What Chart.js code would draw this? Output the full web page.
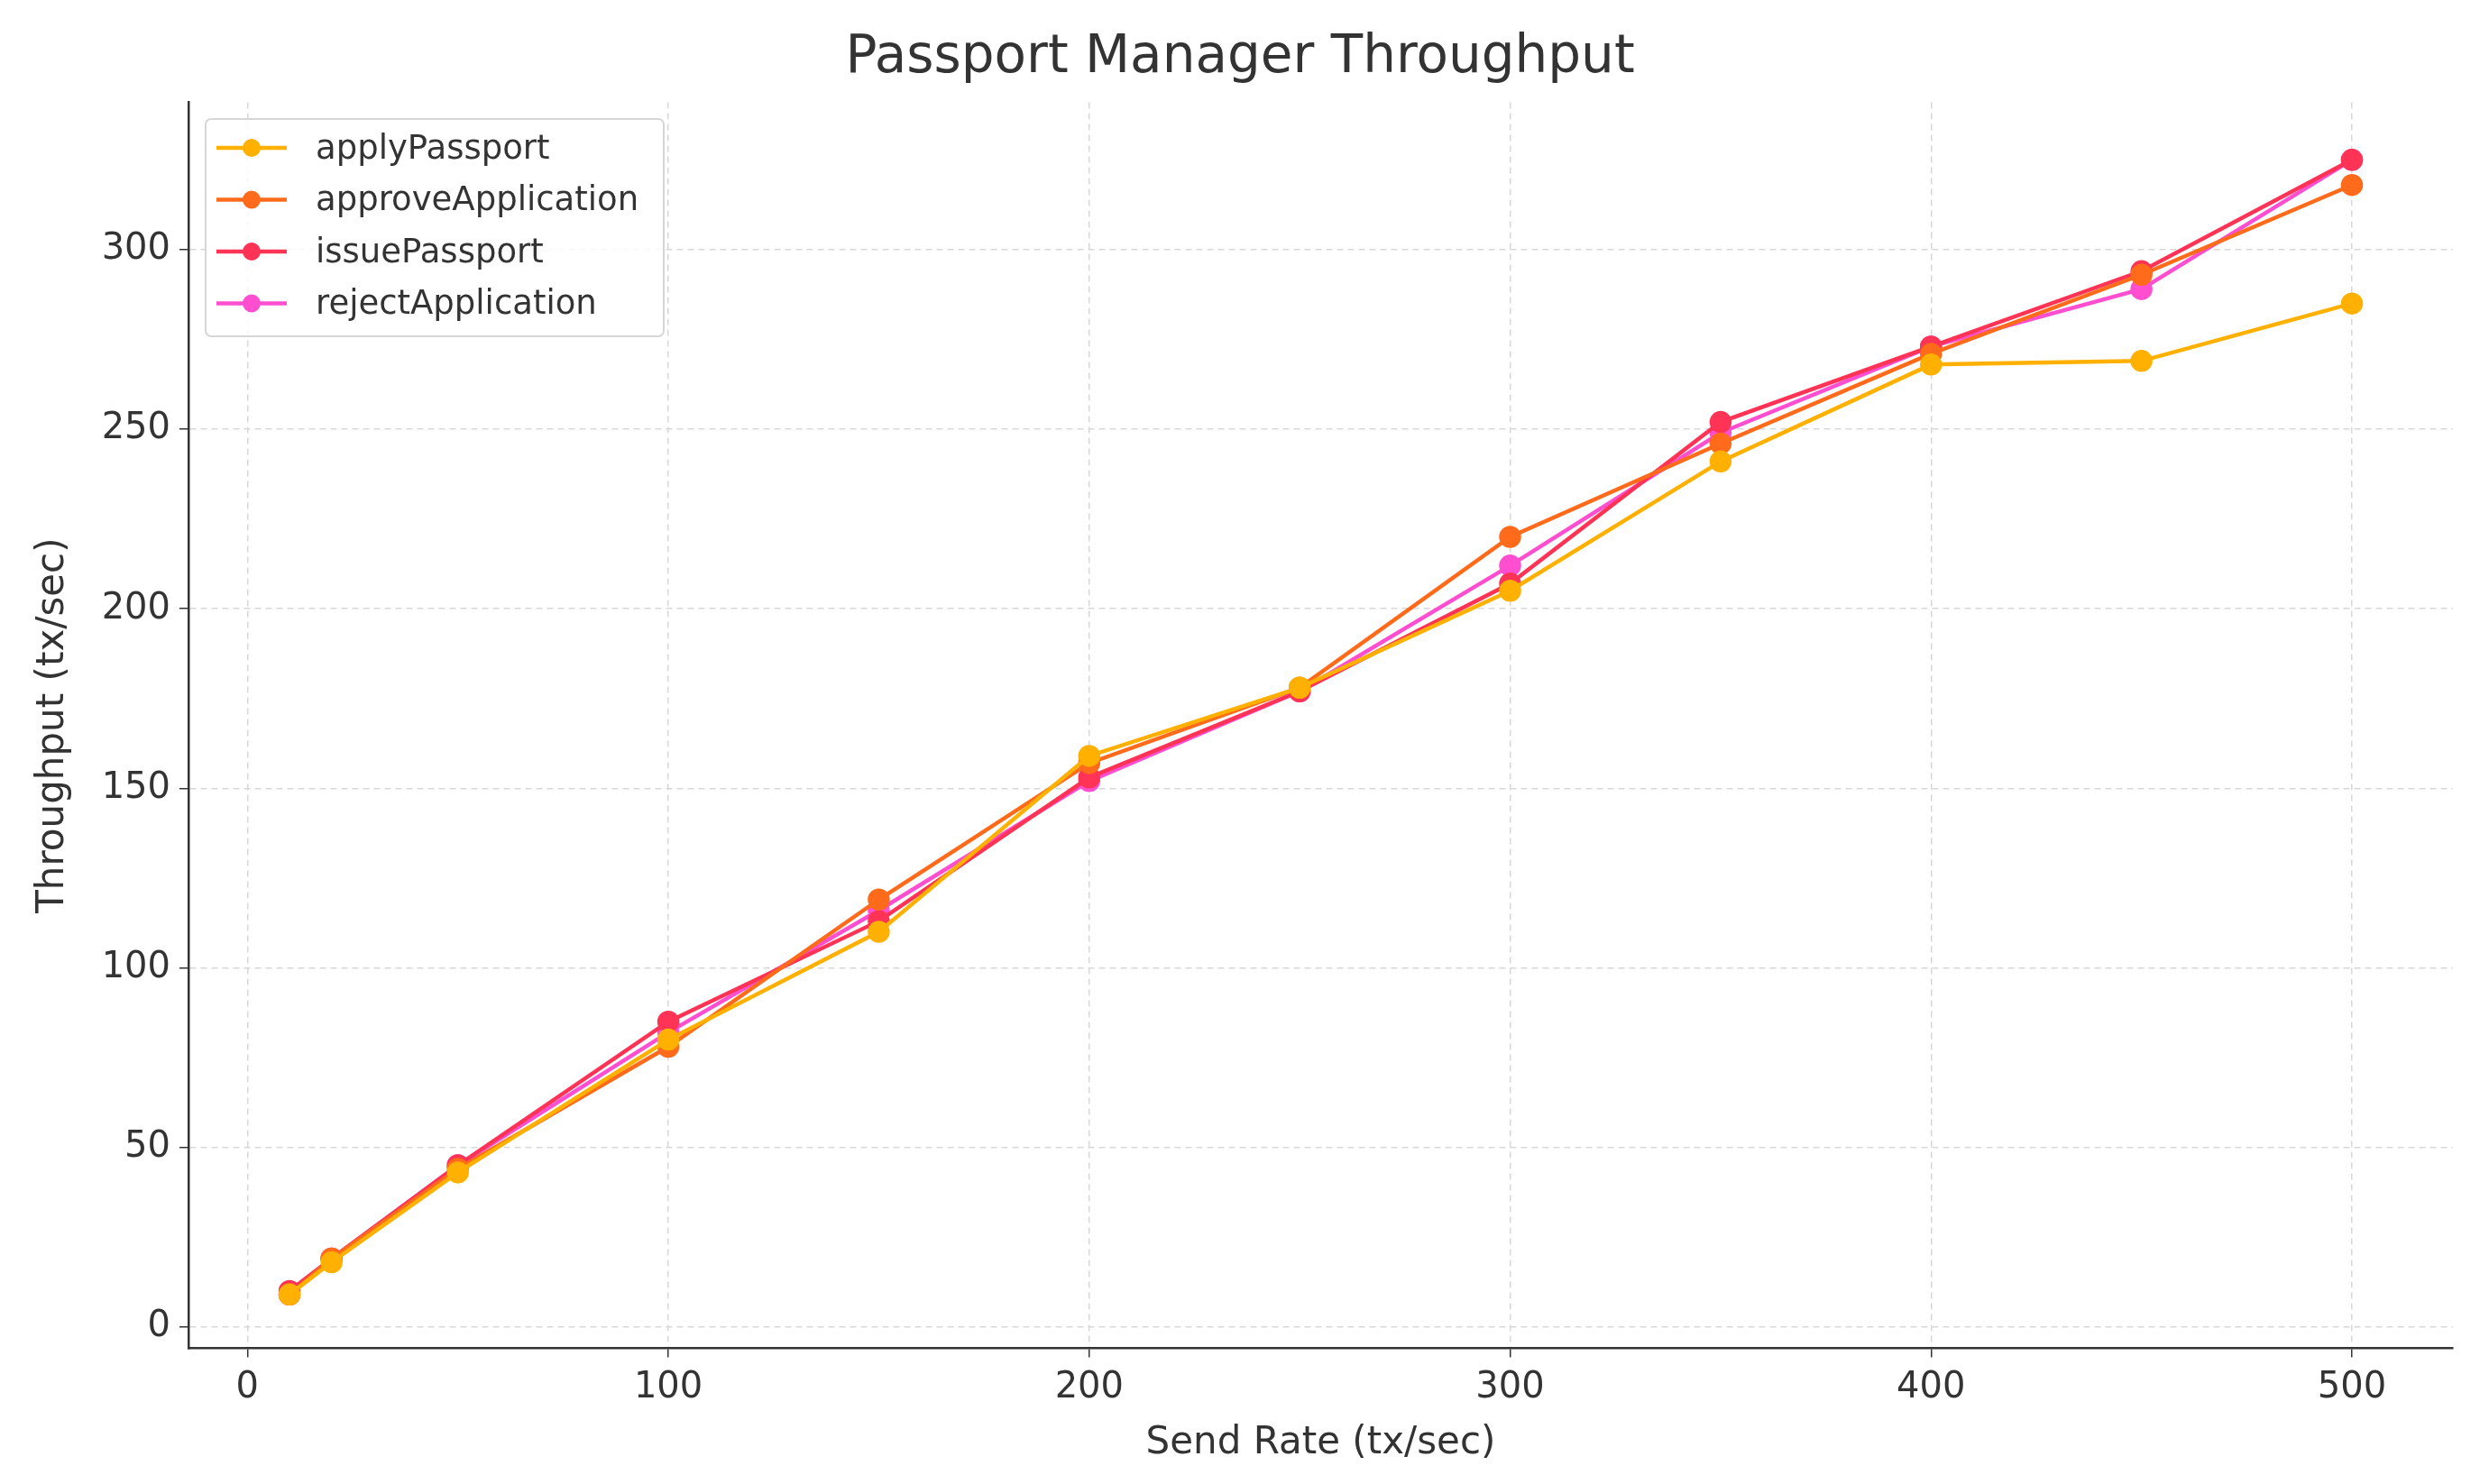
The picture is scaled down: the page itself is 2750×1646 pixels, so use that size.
<!DOCTYPE html>
<html>
<head>
<meta charset="utf-8">
<script src="https://cdn.jsdelivr.net/npm/chart.js@4.4.1/dist/chart.umd.min.js"></script>
<style>
  html, body { margin: 0; padding: 0; background: #fff; }
  #wrap { width: 2750px; height: 1646px; }
</style>
</head>
<body>
<div id="wrap"><canvas id="chart" width="2750" height="1646"></canvas></div>
<script>
// Send rates (x axis)
const sendRates = [10, 20, 50, 100, 150, 200, 250, 300, 350, 400, 450, 500];

// Throughput per function
const applyPassport      = [9, 18, 43, 80, 110, 159, 178, 205, 241, 268, 269, 285];
const approveApplication = [9, 19, 44, 78, 119, 157, 178, 220, 246, 271, 293, 318];
const issuePassport      = [10, 19, 45, 85, 113, 153, 177, 207, 252, 273, 294, 325];
const rejectApplication  = [9, 19, 45, 82, 116, 152, 177, 212, 249, 273, 289, 325];

const seriesNames = ['applyPassport', 'approveApplication', 'issuePassport', 'rejectApplication'];
const seriesData = [applyPassport, approveApplication, issuePassport, rejectApplication];
const seriesColors = ['#FFB000', '#FF6B1A', '#FF3355', '#FF4FD0'];

const FONT = '"DejaVu Sans", sans-serif';
const TEXT = '#333333';

// Legend drawn inside the plot, top-left, matplotlib style
const insideLegend = {
    id: 'insideLegend',
    afterDraw(chart) {
        const ctx = chart.ctx;
        const x0 = 228, y0 = 132, w = 508, h = 241;
        ctx.save();
        ctx.fillStyle = 'rgba(255,255,255,0.85)';
        ctx.strokeStyle = '#d6d6d6';
        ctx.lineWidth = 2;
        ctx.beginPath();
        ctx.roundRect(x0, y0, w, h, 6);
        ctx.fill();
        ctx.stroke();
        ctx.font = '37px ' + FONT;
        ctx.textBaseline = 'middle';
        chart.data.datasets.forEach((ds, i) => {
            const cy = y0 + 32 + i * 57.5;
            ctx.strokeStyle = ds.borderColor;
            ctx.lineWidth = 4.5;
            ctx.beginPath();
            ctx.moveTo(240, cy);
            ctx.lineTo(318, cy);
            ctx.stroke();
            ctx.fillStyle = ds.borderColor;
            ctx.beginPath();
            ctx.arc(279, cy, 10, 0, Math.PI * 2);
            ctx.fill();
            ctx.fillStyle = TEXT;
            ctx.fillText(ds.label, 350, cy + 2);
        });
        ctx.restore();
    }
};

new Chart(document.getElementById('chart'), {
    type: 'line',
    data: {
        datasets: seriesNames.map((name, i) => ({
            label: name,
            data: sendRates.map((x, j) => ({ x: x, y: seriesData[i][j] })),
            borderColor: seriesColors[i],
            backgroundColor: seriesColors[i],
            borderWidth: 4.5,
            pointRadius: 10,
            pointHoverRadius: 10,
            tension: 0
        }))
    },
    options: {
        responsive: false,
        animation: false,
        layout: { padding: { left: 30, right: 30, top: 0, bottom: 16 } },
        plugins: {
            legend: { display: false },
            tooltip: { enabled: false },
            title: {
                display: true,
                text: 'Passport Manager Throughput',
                color: TEXT,
                font: { family: FONT, size: 58, weight: 'normal' },
                padding: { top: 30, bottom: 14 }
            }
        },
        scales: {
            x: {
                type: 'linear',
                min: -14,
                max: 524,
                afterBuildTicks: (axis) => { axis.ticks = [0, 100, 200, 300, 400, 500].map(v => ({ value: v })); },
                title: {
                    display: true,
                    text: 'Send Rate (tx/sec)',
                    color: TEXT,
                    font: { family: FONT, size: 42 },
                    padding: { top: 2 }
                },
                ticks: { color: TEXT, font: { family: FONT, size: 40 }, padding: 10 },
                grid: { color: '#d8d8d8', lineWidth: 1.5, tickColor: '#333', tickLength: 10 },
                border: { display: true, color: '#333', width: 2.5, dash: [7, 5] }
            },
            y: {
                min: -6,
                max: 341,
                afterBuildTicks: (axis) => { axis.ticks = [0, 50, 100, 150, 200, 250, 300].map(v => ({ value: v })); },
                afterFit: (axis) => { axis.width = 179; },
                title: {
                    display: true,
                    text: 'Throughput (tx/sec)',
                    color: TEXT,
                    font: { family: FONT, size: 42 },
                    padding: { bottom: 8 }
                },
                ticks: { color: TEXT, font: { family: FONT, size: 40 }, padding: 10 },
                grid: { color: '#d8d8d8', lineWidth: 1.5, tickColor: '#333', tickLength: 10 },
                border: { display: true, color: '#333', width: 2.5, dash: [7, 5] }
            }
        }
    },
    plugins: [insideLegend]
});
</script>
</body>
</html>
